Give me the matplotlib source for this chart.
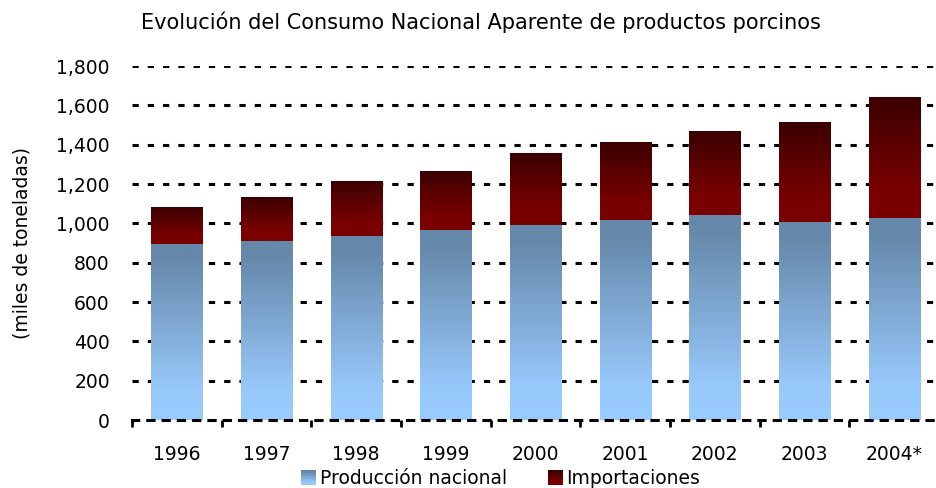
import numpy as np
import matplotlib.pyplot as plt
from matplotlib.colors import LinearSegmentedColormap
from matplotlib.legend_handler import HandlerBase
from matplotlib.patches import Rectangle
from matplotlib.ticker import FuncFormatter, FixedLocator

plt.rcParams["font.family"] = "DejaVu Sans"
plt.rcParams["lines.scale_dashes"] = False

years = ["1996", "1997", "1998", "1999", "2000", "2001", "2002", "2003", "2004*"]
produccion = [895, 910, 935, 966, 991, 1017, 1042, 1007, 1027]
importaciones = [188, 224, 280, 300, 366, 396, 427, 508, 615]

blue_cmap = LinearSegmentedColormap.from_list(
    "prod", [(0, "#99CCFF"), (0.18, "#97C8FA"), (0.92, "#6688AA"), (1, "#6688AA")])
red_cmap = LinearSegmentedColormap.from_list(
    "imp", [(0, "#7A0000"), (0.25, "#780000"), (1, "#3C0000")])

dash = (0, (4.5, 6.5))


def fill_gradient(ax, bars, cmap):
    # paint each bar with a vertical gradient clipped to its rectangle
    grad = np.linspace(0, 1, 256).reshape(-1, 1)
    for bar in bars:
        x0, y0 = bar.get_x(), bar.get_y()
        w, h = bar.get_width(), bar.get_height()
        im = ax.imshow(grad, cmap=cmap, origin="lower", aspect="auto",
                       extent=(x0, x0 + w, y0, y0 + h), zorder=2,
                       interpolation="bilinear")
        im.set_clip_path(bar)


class GradientHandler(HandlerBase):
    def __init__(self, cmap):
        super().__init__()
        self.cmap = cmap

    def create_artists(self, legend, orig_handle, xdescent, ydescent,
                       width, height, fontsize, trans):
        n = 20
        size = height * 1.15
        x = -xdescent + width - size
        y = -ydescent + (height - size) / 2
        parts = []
        for i in range(n):
            r = Rectangle((x, y + size * i / n), size, size / n + 0.3,
                          facecolor=self.cmap(i / (n - 1)), edgecolor="none",
                          transform=trans)
            parts.append(r)
        return parts


fig = plt.figure(figsize=(9.37, 4.88), dpi=100)
ax = fig.add_axes([132 / 937, 68 / 488, 807 / 937, 354 / 488])

x = np.arange(len(years))
b1 = ax.bar(x, produccion, width=0.57, color="none", edgecolor="none")
b2 = ax.bar(x, importaciones, bottom=produccion, width=0.57,
            color="none", edgecolor="none")
fill_gradient(ax, b1, blue_cmap)
fill_gradient(ax, b2, red_cmap)

ax.set_xlim(-0.5, len(years) - 0.5)
ax.set_ylim(0, 1800)
ax.set_yticks(range(0, 1801, 200))
ax.yaxis.set_major_formatter(FuncFormatter(lambda v, p: "{:,.0f}".format(v)))
ax.set_xticks(x)
ax.set_xticklabels(years)
ax.xaxis.set_minor_locator(FixedLocator(np.arange(-0.5, len(years), 1.0)))

ax.set_axisbelow(True)
ax.yaxis.grid(True, color="black", linewidth=2.2, linestyle=dash)
ax.yaxis.get_gridlines()[0].set_visible(False)

for side in ["left", "right", "top"]:
    ax.spines[side].set_visible(False)
ax.spines["bottom"].set_linewidth(2.2)
ax.spines["bottom"].set_linestyle(dash)
ax.spines["bottom"].set_zorder(3)

ax.tick_params(axis="y", length=0, pad=16, labelsize=13.5)
ax.tick_params(axis="x", which="major", length=0, pad=18, labelsize=13.5)
ax.tick_params(axis="x", which="minor", length=5, width=2, direction="out")

ax.set_ylabel("(miles de toneladas)", fontsize=13.5)
ax.yaxis.set_label_coords(-0.124, 0.5)

fig.text(481 / 937, 1 - 22 / 488, "Evolución del Consumo Nacional Aparente de productos porcinos",
         ha="center", va="center", fontsize=15)

h1 = Rectangle((0, 0), 1, 1)
h2 = Rectangle((0, 0), 1, 1)
fig.legend([h1, h2], ["Producción nacional", "Importaciones"], ncol=2,
           loc="center", bbox_to_anchor=(499 / 937, 1 - 479 / 488),
           frameon=False, fontsize=13.5, handlelength=1.0, handletextpad=0.18,
           columnspacing=2.0,
           handler_map={h1: GradientHandler(blue_cmap), h2: GradientHandler(red_cmap)})

fig.savefig("out.png", dpi=100)
